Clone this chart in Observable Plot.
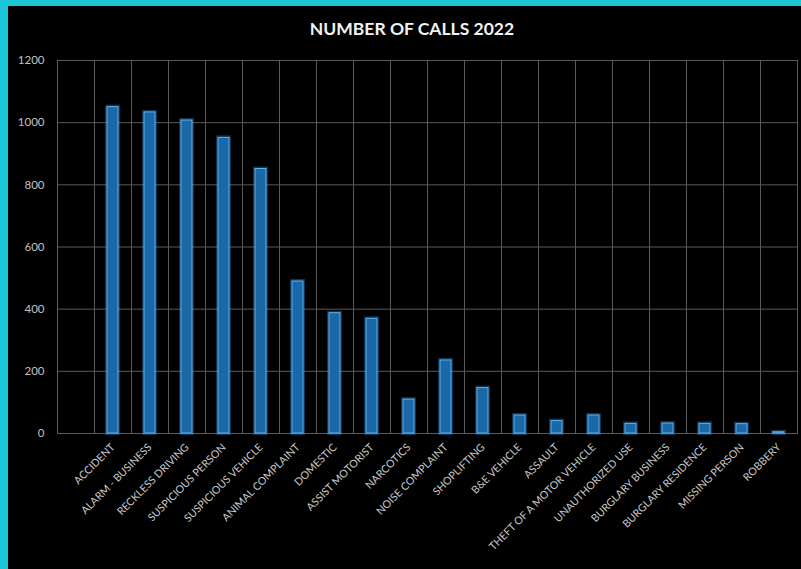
<!DOCTYPE html>
<html>
<head>
<meta charset="utf-8">
<script src="https://cdn.jsdelivr.net/npm/d3@7"></script>
<script src="https://cdn.jsdelivr.net/npm/@observablehq/plot@0.6"></script>
<style>
  html, body { margin: 0; padding: 0; background: #000; }
  #wrap { position: relative; width: 801px; height: 569px; background: #000; overflow: hidden; }
  #title { position: absolute; left: 0; width: 824px; top: 18px; text-align: center;
           font-family: Lato, "Open Sans", sans-serif; font-weight: bold; font-size: 17.5px; color: #f2f2f2; }
  #chart { position: absolute; left: 0; top: 50px; }
  .bl { position: absolute; left: 0; top: 0; width: 8px; height: 569px; background: #1cc6d6; }
  .bt { position: absolute; left: 0; top: 0; width: 801px; height: 6px; background: #1cc6d6; }
</style>
</head>
<body>
<div id="wrap">
  <div id="chart"></div>
  <div id="title">NUMBER OF CALLS 2022</div>
  <div class="bl"></div>
  <div class="bt"></div>
</div>
<script>
const categories = ["ACCIDENT","ALARM - BUSINESS","RECKLESS DRIVING","SUSPICIOUS PERSON","SUSPICIOUS VEHICLE","ANIMAL COMPLAINT","DOMESTIC","ASSIST MOTORIST","NARCOTICS","NOISE COMPLAINT","SHOPLIFTING","B&E VEHICLE","ASSAULT","THEFT OF A MOTOR VEHICLE","UNAUTHORIZED USE","BURGLARY BUSINESS","BURGLARY RESIDENCE","MISSING PERSON","ROBBERY"];
const calls = [1050,1033,1007,951,851,489,387,369,109,235,146,58,40,58,31,32,31,30,4];
const yTicks = [0,200,400,600,800,1000,1200];

const data = categories.map((c, i) => ({category: c, calls: calls[i]}));
const domain = ["", ...categories];

const W = 801, H = 519;
const mL = 57, mR = 4;
const step = (W - mL - mR) / domain.length;

const chart = Plot.plot({
  width: W,
  height: H,
  marginTop: 10,
  marginBottom: 136,
  marginLeft: mL,
  marginRight: mR,
  style: {background: "#000", color: "#c8c8c8", fontFamily: "Lato, 'Open Sans', sans-serif", fontSize: "10.5px"},
  x: {type: "band", domain, paddingInner: 0.7, paddingOuter: 0.35, label: null},
  y: {domain: [0, 1200], label: null},
  marks: [
    Plot.ruleY(yTicks, {stroke: "#5a5a5a", strokeWidth: 1}),
    Plot.ruleX(domain, {x: d => d, stroke: "#5a5a5a", strokeWidth: 1, dx: -step / 2}),
    Plot.frame({stroke: "#5a5a5a"}),
    Plot.barY(data, {x: "category", y: "calls", fill: "#2f8fe0", fillOpacity: 0.25, stroke: "#2f8fe0", strokeOpacity: 0.35, strokeWidth: 4}),
    Plot.barY(data, {x: "category", y: "calls", fill: "#1b68a8", stroke: "#5fb4ee", strokeWidth: 1}),
    Plot.axisY({ticks: yTicks, tickSize: 0, tickPadding: 13, tickFormat: d => String(d), fill: "#c0c0c0", fontSize: 11.5}),
    Plot.axisX({tickSize: 0, tickPadding: 12, tickRotate: -45, fill: "#c8c8c8", fontSize: 10.6})
  ]
});
document.getElementById("chart").appendChild(chart);
</script>
</body>
</html>
